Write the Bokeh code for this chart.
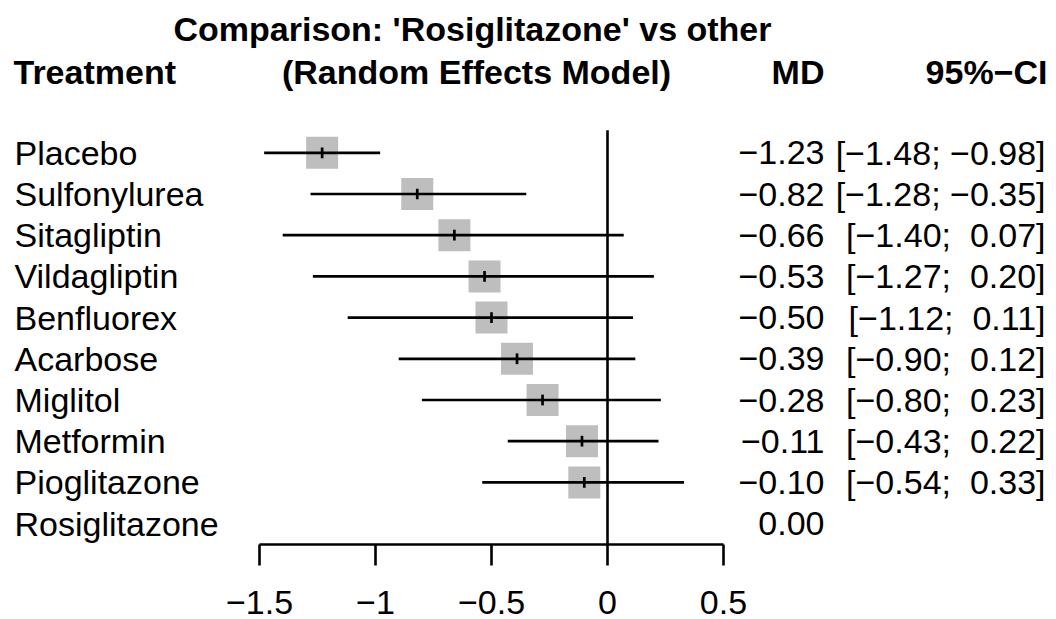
from bokeh.plotting import figure
from bokeh.models import Range1d, FixedTicker, CustomJSTickFormatter, ColumnDataSource
from bokeh.core.properties import value
from bokeh.embed import file_html
from bokeh.resources import INLINE

# Network meta-analysis: mean differences vs Rosiglitazone
treatments = ["Placebo", "Sulfonylurea", "Sitagliptin", "Vildagliptin", "Benfluorex",
              "Acarbose", "Miglitol", "Metformin", "Pioglitazone", "Rosiglitazone"]
md = [-1.23, -0.82, -0.66, -0.53, -0.50, -0.39, -0.28, -0.11, -0.10, 0.00]
ci_lower = [-1.48, -1.28, -1.40, -1.27, -1.12, -0.90, -0.80, -0.43, -0.54, None]
ci_upper = [-0.98, -0.35, 0.07, 0.20, 0.11, 0.12, 0.23, 0.22, 0.33, None]
axis_ticks = [-1.5, -1.0, -0.5, 0.0, 0.5]

FONT_NAME = "Liberation Sans"
FONT = value(FONT_NAME)
SIZE = "34px"
MINUS = "\u2212"
NBSP = "\u00a0"


def fmt(v):
    s = f"{abs(v):.2f}"
    return (MINUS + s) if v < 0 else s


def fmt_padded(v):
    # pad positive numbers so signs line up, like R's format()
    return fmt(v) if v < 0 else NBSP + fmt(v)


rows = list(range(len(treatments)))
md_text = [fmt(v) for v in md]
ci_text = [
    "" if lo is None else f"[{fmt(lo)};{NBSP}{fmt_padded(hi)}]"
    for lo, hi in zip(ci_lower, ci_upper)
]

# rows with an estimated comparison (reference treatment has none)
est = [i for i in rows if ci_lower[i] is not None]
src_est = ColumnDataSource(dict(
    y=[rows[i] for i in est],
    md=[md[i] for i in est],
    lo=[ci_lower[i] for i in est],
    hi=[ci_upper[i] for i in est],
    tick_lo=[rows[i] - 0.13 for i in est],
    tick_hi=[rows[i] + 0.13 for i in est],
))
src_all = ColumnDataSource(dict(
    y=rows,
    name=treatments,
    md_text=md_text,
    ci_text=ci_text,
))

# pixel layout: 232 px per unit on x, 41.2 px per row on y
ROW_PX, ROW0_PX = 41.2, 152.3
AXIS_PX = 544


def px(x):
    return (x - 607) / 232


def py(y):
    return (y - ROW0_PX) / ROW_PX


p = figure(width=1056, height=619, output_backend="svg", toolbar_location=None,
           x_range=Range1d(px(0), px(1056)), y_range=Range1d(py(619), py(0)),
           y_axis_location=None, min_border_left=0, min_border_right=0,
           min_border_top=0, min_border_bottom=0)
p.outline_line_color = None
p.grid.visible = False
p.background_fill_color = "white"
p.border_fill_color = "white"

# x axis drawn inside the frame, limited to the tick span
ax = p.xaxis[0]
ax.fixed_location = py(AXIS_PX)
ax.ticker = FixedTicker(ticks=axis_ticks)
ax.bounds = (-1.5, 0.5)
ax.formatter = CustomJSTickFormatter(code="return tick.toString().replace('-', '\\u2212')")
ax.axis_line_width = 2.6
ax.axis_line_color = "black"
ax.major_tick_line_width = 2.6
ax.major_tick_line_color = "black"
ax.major_tick_out = 21
ax.major_tick_in = 0
ax.minor_tick_out = 0
ax.minor_tick_in = 0
ax.major_label_standoff = 25
ax.major_label_text_font = FONT_NAME
ax.major_label_text_font_size = SIZE
ax.major_label_text_color = "black"

# line of no effect
p.segment(x0=[0], y0=[-0.55], x1=[0], y1=[py(AXIS_PX)], line_color="black", line_width=2.6)

# squares, confidence intervals and estimate ticks
p.rect(x="md", y="y", width=32, height=32, width_units="screen", height_units="screen",
       source=src_est, fill_color="#BEBEBE", line_color=None)
p.segment(x0="lo", y0="y", x1="hi", y1="y", source=src_est, line_color="black", line_width=2.7)
p.segment(x0="md", y0="tick_lo", x1="md", y1="tick_hi", source=src_est,
          line_color="black", line_width=2.7)

# text columns
p.text(x=px(14), y="y", text="name", source=src_all, text_font=FONT,
       text_font_size=SIZE, text_align="left", text_baseline="alphabetic", text_color="black")
p.text(x=px(824), y="y", text="md_text", source=src_all, text_font=FONT,
       text_font_size=SIZE, text_align="right", text_baseline="alphabetic", text_color="black")
p.text(x=px(1045), y="y", text="ci_text", source=src_all, text_font=FONT,
       text_font_size=SIZE, text_align="right", text_baseline="alphabetic", text_color="black")

# headers
y_title = py(28)
y_head = py(71)
p.text(x=[px(472)], y=[y_title], text=["Comparison: 'Rosiglitazone' vs other"], text_font=FONT,
       text_font_size=SIZE, text_font_style="bold", text_align="center", text_baseline="alphabetic")
p.text(x=[px(13)], y=[y_head], text=["Treatment"], text_font=FONT, text_font_size=SIZE,
       text_font_style="bold", text_align="left", text_baseline="alphabetic")
p.text(x=[px(476)], y=[y_head], text=["(Random Effects Model)"], text_font=FONT, text_font_size=SIZE,
       text_font_style="bold", text_align="center", text_baseline="alphabetic")
p.text(x=[px(824)], y=[y_head], text=["MD"], text_font=FONT, text_font_size=SIZE,
       text_font_style="bold", text_align="right", text_baseline="alphabetic")
p.text(x=[px(1047)], y=[y_head], text=["95%" + MINUS + "CI"], text_font=FONT, text_font_size=SIZE,
       text_font_style="bold", text_align="right", text_baseline="alphabetic")

open("out.html", "w").write(file_html(p, INLINE))
